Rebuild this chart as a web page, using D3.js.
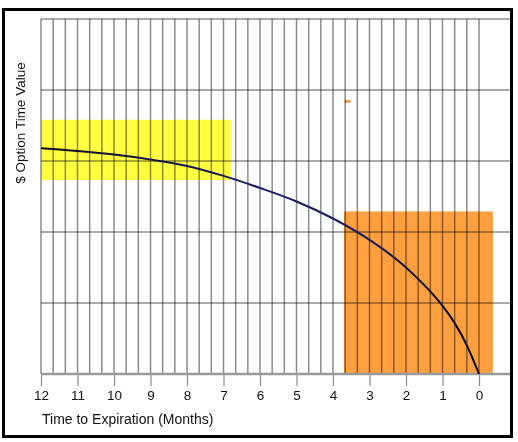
<!DOCTYPE html>
<html>
<head>
<meta charset="utf-8">
<script src="https://cdn.jsdelivr.net/npm/d3@7"></script>
<style>
  body { margin: 0; background: #fff; }
  svg text { font-family: "Liberation Sans", Arial, sans-serif; fill: #111; }
  .grid line { stroke: #8c8c8c; stroke-width: 1.5; mix-blend-mode: multiply; }
</style>
</head>
<body>
<div id="chart"></div>
<script>
// time left (months) and option time value
const months = [12, 11, 10, 9, 8, 7, 6, 5, 4, 3, 2.5, 2, 1.67, 1.33, 1, 0.67, 0.33, 0];
const timeValue = [3.18, 3.14, 3.09, 3.02, 2.93, 2.79, 2.62, 2.43, 2.19, 1.89, 1.71, 1.50, 1.34, 1.16, 0.96, 0.72, 0.40, 0];
const tickLabels = [12, 11, 10, 9, 8, 7, 6, 5, 4, 3, 2, 1, 0];
const yGridValues = [1, 2, 3, 4, 5];
// shaded zones: [from month, to month, low value, high value]
const yellowZone = [12, 6.8, 2.73, 3.58];
const orangeZone = [3.7, -0.38, 0, 2.29];
const orangeDot = [3.68, 3.52, 3.82, 3.86];

const width = 518;
const height = 442;

function buildChart() {
    const svg = d3.select('#chart')
        .append('svg')
        .attr('width', width)
        .attr('height', height);

    const x = d3.scaleLinear().domain([12, 0]).range([41, 479]);
    const y = d3.scaleLinear().domain([0, 5]).range([374, 19]);
    const plotRight = 510;

    // frame
    svg.append('rect')
        .attr('x', 3.5).attr('y', 9.5)
        .attr('width', 508).attr('height', 427)
        .attr('fill', '#fff')
        .attr('stroke', '#000')
        .attr('stroke-width', 3);

    // shaded zones go under the grid
    const zone = (z, color) => svg.append('rect')
        .attr('x', x(z[0]))
        .attr('y', y(z[3]))
        .attr('width', x(z[1]) - x(z[0]))
        .attr('height', y(z[2]) - y(z[3]))
        .attr('fill', color);
    zone(yellowZone, '#ffff40');
    zone(orangeZone, '#ffa040');
    zone(orangeDot, '#ff9a40');

    const grid = svg.append('g').attr('class', 'grid');
    grid.selectAll('line.v')
        .data(d3.range(0, 37).map(i => i / 3))
        .enter().append('line')
        .attr('x1', d => x(d)).attr('x2', d => x(d))
        .attr('y1', y(5)).attr('y2', y(0));
    grid.selectAll('line.h')
        .data(yGridValues)
        .enter().append('line')
        .attr('x1', x(12)).attr('x2', plotRight)
        .attr('y1', d => y(d)).attr('y2', d => y(d));

    // x axis
    const xAxis = d3.axisBottom(x)
        .tickValues(tickLabels)
        .tickSize(12)
        .tickPadding(4)
        .tickFormat(d3.format('d'));
    const axisG = svg.append('g')
        .attr('transform', `translate(0, ${y(0)})`)
        .call(xAxis);
    axisG.select('.domain').remove();
    axisG.selectAll('.tick line').attr('stroke', '#8c8c8c').attr('stroke-width', 1.2);
    axisG.selectAll('.tick text').attr('font-size', 13.5).attr('fill', '#111');
    svg.append('line')
        .attr('x1', x(12)).attr('x2', plotRight)
        .attr('y1', y(0)).attr('y2', y(0))
        .attr('stroke', '#9a9a9a')
        .attr('stroke-width', 2.5);

    // curve
    const grad = svg.append('defs').append('linearGradient')
        .attr('id', 'curveGrad')
        .attr('gradientUnits', 'userSpaceOnUse')
        .attr('x1', x(12)).attr('x2', x(0))
        .attr('y1', 0).attr('y2', 0);
    grad.append('stop').attr('offset', '0%').attr('stop-color', '#0a0a20');
    grad.append('stop').attr('offset', '45%').attr('stop-color', '#1c1c6a');
    grad.append('stop').attr('offset', '75%').attr('stop-color', '#1c1c60');
    grad.append('stop').attr('offset', '100%').attr('stop-color', '#000');

    const line = d3.line()
        .x((d, i) => x(months[i]))
        .y(d => y(d))
        .curve(d3.curveMonotoneX);
    svg.append('path')
        .datum(timeValue)
        .attr('d', line)
        .attr('fill', 'none')
        .attr('stroke', 'url(#curveGrad)')
        .attr('stroke-width', 2);

    // labels
    svg.append('text')
        .attr('x', 42).attr('y', 424)
        .attr('font-size', 14)
        .text('Time to Expiration (Months)');
    svg.append('text')
        .attr('transform', 'translate(25, 123) rotate(-90)')
        .attr('text-anchor', 'middle')
        .attr('font-size', 13.5)
        .text('$ Option Time Value');
}

document.addEventListener('DOMContentLoaded', () => buildChart());
</script>
</body>
</html>
